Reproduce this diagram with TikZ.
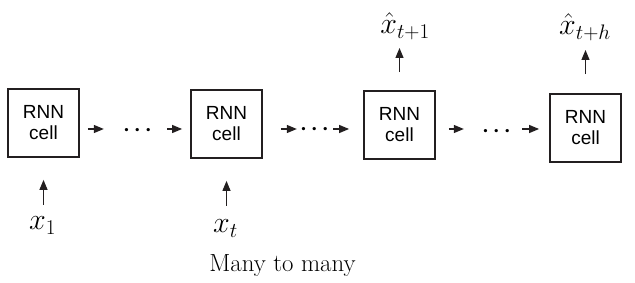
\RequirePackage{fix-cm}
\documentclass[tikz,border=0pt]{standalone}
\usepackage{amsmath}
\usepackage{fontspec}
\newfontfamily\cellfont{Liberation Sans}
\usetikzlibrary{arrows.meta,positioning}

\begin{document}
\begin{tikzpicture}[
    x=1pt, y=-1pt,
    cellbox/.style={draw=inkblack, line width=1.8pt, minimum width=71pt, minimum height=68pt,
      inner sep=0pt, align=center, font=\cellfont\fontsize{19}{21}\selectfont},
    flowarrow/.style={inkblack, line width=1.2pt, -{Triangle[length=10pt, width=8pt]}},
    seqlabel/.style={inner sep=0pt, anchor=base, font=\fontsize{30}{35}\selectfont},
    dotsrow/.style={inner sep=0pt, anchor=base, font=\fontsize{21.5}{26}\selectfont},
  ]
    \definecolor{inkblack}{HTML}{231f20}
    \useasboundingbox (0,0) rectangle (635,283);

    % ---- cells ----
    \node[cellbox] (cellA) at (43.5,123) {RNN\\cell};
    \node[cellbox] (cellB) at (226.5,124) {RNN\\cell};
    \node[cellbox] (cellC) at (399.5,125) {RNN\\cell};
    \node[cellbox] (cellD) at (585.5,128) {RNN\\cell};

    % ---- dots between cells ----
    \coordinate (row) at (0,129);
    \node[dotsrow] (dotsA) at (139.5,136) {$\boldsymbol{\cdots}$};
    \node[dotsrow] (dotsB) at (316.5,135) {$\boldsymbol{\cdots}$};
    \node[dotsrow] (dotsC) at (498.5,137) {$\boldsymbol{\cdots}$};

    % ---- recurrent arrows ----
    \draw[flowarrow, shorten <=8pt, shorten >=19pt] (cellA.east |- row) -- (dotsA.west |- row);
    \draw[flowarrow, shorten <=11pt, shorten >=8pt] (dotsA.east |- row) -- (cellB.west |- row);
    \draw[flowarrow, shorten <=18pt, shorten >=3pt] (cellB.east |- row) -- (dotsB.west |- row);
    \draw[flowarrow, shorten <=0pt, shorten >=14pt] (dotsB.east |- row) -- (cellC.west |- row);
    \draw[flowarrow, shorten <=13pt, shorten >=18pt] (cellC.east |- row) -- (dotsC.west |- row);
    \draw[flowarrow, shorten <=7pt, shorten >=10pt] (dotsC.east |- row) -- (cellD.west |- row);

    % ---- inputs ----
    \node[seqlabel] (inA) at (42.5,230) {$x_1$};
    \node[seqlabel] (inB) at (225.5,233) {$x_t$};
    \draw[flowarrow, shorten <=25pt, shorten >=22pt] (cellA.south |- inA.base) -- (cellA.south);
    \draw[flowarrow, shorten <=27pt, shorten >=22pt] (cellB.south |- inB.base) -- (cellB.south);

    % ---- outputs ----
    \node[seqlabel] (outC) at (405,34) {$\hat{x}_{t+1}$};
    \node[seqlabel] (outD) at (585,35) {$\hat{x}_{t+h}$};
    \draw[flowarrow, shorten <=18pt, shorten >=14pt] (cellC.north) -- (cellC.north |- outC.base);
    \draw[flowarrow, shorten <=19pt, shorten >=15pt] (cellD.north) -- (cellD.north |- outD.base);

    % ---- caption ----
    \node[anchor=base, inner sep=0pt, font=\fontsize{24.8}{30}\selectfont] (caption)
      at (282.5,272) {Many to many};
  \end{tikzpicture}
\end{document}
